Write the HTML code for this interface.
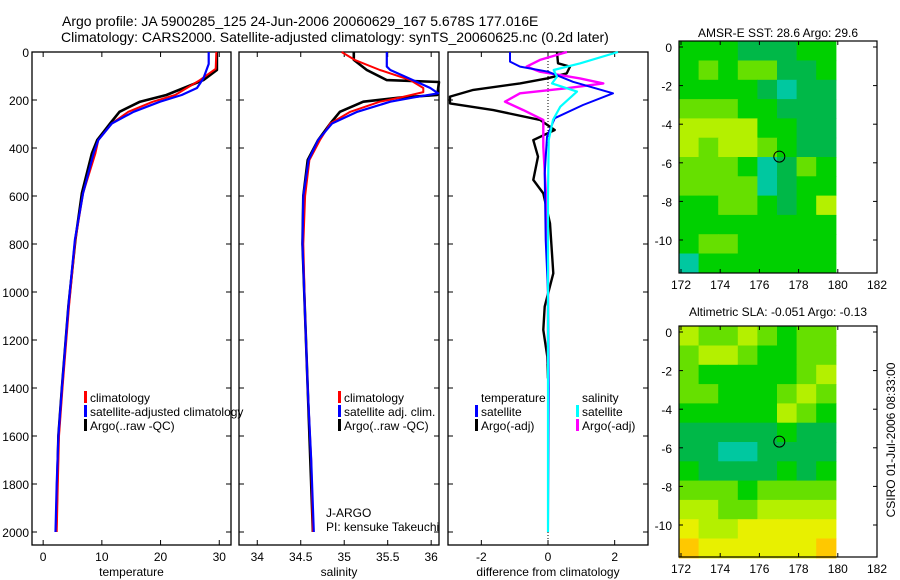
<!DOCTYPE html>
<html><head><meta charset="utf-8">
<style>
html,body{margin:0;padding:0;background:#fff;}
svg{display:block;font-family:"Liberation Sans",sans-serif;}
</style></head>
<body>
<svg id="fig" width="900" height="580" viewBox="0 0 900 580" xmlns="http://www.w3.org/2000/svg">
<text x="62" y="26" font-size="14">Argo profile: JA 5900285_125 24-Jun-2006 20060629_167 5.678S 177.016E</text>
<text x="61" y="42" font-size="14">Climatology: CARS2000. Satellite-adjusted climatology: synTS_20060625.nc (0.2d later)</text>
<text x="778" y="37" font-size="12" text-anchor="middle">AMSR-E SST: 28.6 Argo: 29.6</text>
<text x="778" y="316" font-size="12" text-anchor="middle">Altimetric SLA: -0.051 Argo: -0.13</text>
<text transform="translate(895,440) rotate(-90)" font-size="12" text-anchor="middle">CSIRO 01-Jul-2006 08:33:00</text>
<g id="plots"></g>
</svg>
<script>
// ---------- data ----------
const depthTicks=[0,200,400,600,800,1000,1200,1400,1600,1800,2000];
const tempTicks=[0,10,20,30];
const salTicks=[34,34.5,35,35.5,36];
const diffTicks=[-2,0,2];
const lonTicks=[172,174,176,178,180,182];
const latTicks=[0,-2,-4,-6,-8,-10];

// temperature profiles
const tClimDepth=[0,70,117,179,207,249,298,367,422,588,782,1060,1400,1600,1800,2000];
const tClimVal=[29.5,29.4,26.7,22.5,18.7,14.5,11.7,9.4,8.9,6.8,5.5,4.4,3.3,2.7,2.5,2.3];
const tSatDepth=[0,50,110,150,179,207,249,298,367,422,588,782,1060,1400,1600,1800,2000];
const tSatVal=[28.2,28.2,27.3,26.2,23.6,19.9,15.4,11.7,9.4,8.6,6.8,5.4,4.3,3.2,2.6,2.3,2.1];
const tArgoDepth=[0,75,117,179,207,249,298,367,422,588,782,1060,1400,1600,1800,2000];
const tArgoVal=[29.6,29.6,27.3,21,16.5,13,11.4,9.2,8.3,6.6,5.5,4.3,3.2,2.6,2.4,2.2];

// salinity profiles
const sClimDepth=[0,33,75,117,150,167,190,207,249,298,367,450,600,800,1100,1400,1700,2000];
const sClimVal=[34.97,35.12,35.41,35.76,35.91,35.91,35.64,35.41,35.07,34.84,34.72,34.6,34.55,34.53,34.55,34.58,34.62,34.64];
const sSatDepth=[0,61,75,117,150,172,190,207,249,298,367,450,600,800,1100,1400,1700,2000];
const sSatVal=[35.49,35.49,35.53,35.79,35.99,36.08,35.79,35.53,35.15,34.86,34.7,34.59,34.53,34.52,34.55,34.58,34.62,34.65];
const sArgoDepth=[0,33,75,117,125,179,190,207,249,298,367,450,600,800,1100,1400,1700,2000];
const sArgoVal=[35.11,35.11,35.26,35.49,36.09,36.07,35.64,35.22,34.95,34.84,34.7,34.58,34.53,34.52,34.55,34.58,34.61,34.64];

// differences from climatology
const dTSatDepth=[0,40,61,82,124,172,221,276,353,506,783,1000,1400,2000];
const dTSatVal=[-1.14,-1.14,-0.84,0,0.75,1.95,1.05,0.2,-0.03,-0.1,-0.07,0,0.02,0];
const dTArgoDepth=[0,47,61,89,110,131,158,186,214,242,283,325,367,436,533,589,714,922,1061,1158,1269,1360];
const dTArgoVal=[0.27,0.3,0.66,0.56,-0.03,-0.84,-2.24,-2.94,-2.94,-1.64,-0.24,0.2,-0.44,-0.3,-0.44,-0.14,0.06,0.16,-0.1,-0.14,-0.02,0];
const dSSatDepth=[0,47,75,103,131,165,228,283,367,600,2000];
const dSSatVal=[2.1,0.97,0.17,0.27,0.12,0.87,0.37,0.15,0.02,0,0];
const dSArgoDepth=[0,33,61,82,110,131,151,172,207,242,283,394,644,900,1300];
const dSArgoVal=[0.57,-0.24,-0.64,-0.24,0.96,1.66,0.57,-0.84,-1.29,-0.74,-0.14,-0.14,-0.04,0,0];

// map grids (rows: 0..-11 deg lat, cols: 172..179 deg lon), digit = colour level
const sstGrid=["55544455","56566445","55554344","66655444","77775544","76776544","66653465","66663455","55665457","55555555","56655555","35555555"];
const slaGrid=["76676566","67765566","65555567","66555676","55555765","44444544","44334444","54444545","66656666","77667777","87788888","98888889"];

// ---------- drawing ----------
const NS="http://www.w3.org/2000/svg";
const root=document.getElementById('plots');
function mk(tag,attrs,parent){const e=document.createElementNS(NS,tag);for(const k in attrs)e.setAttribute(k,attrs[k]);(parent||root).appendChild(e);return e;}
const Y0=52,Y1=545;
function yD(d){return 52+d*0.24;}
const panels=[
 {x0:32,x1:231,vmin:-1.9,vmax:32.0,ticks:tempTicks,label:'temperature',name:'temperature'},
 {x0:239,x1:439,vmin:33.79,vmax:36.09,ticks:salTicks,label:'salinity',name:'salinity'},
 {x0:448,x1:648,vmin:-3.0,vmax:3.0,ticks:diffTicks,label:'difference from climatology',name:'difference'}
];
panels.forEach(p=>{p.sx=v=>p.x0+(v-p.vmin)/(p.vmax-p.vmin)*(p.x1-p.x0);});

function drawPanel(p,idx){
  const g=mk('g',{});
  
  
  const r=mk('rect',{x:p.x0,y:Y0,width:p.x1-p.x0,height:Y1-Y0,fill:'none',stroke:'#000','stroke-width':1.3},g);
  
  
  depthTicks.forEach(d=>{
    const y=yD(d);
    mk('line',{x1:p.x0,x2:p.x0+5,y1:y,y2:y,stroke:'#000'},g);
    mk('line',{x1:p.x1-5,x2:p.x1,y1:y,y2:y,stroke:'#000'},g);
    if(idx===0){
      const t=mk('text',{x:p.x0-3,y:y+5,'font-size':12,'text-anchor':'end'},g);
      t.textContent=d;
      
      
    }
  });
  p.ticks.forEach(v=>{
    const x=p.sx(v);
    mk('line',{x1:x,x2:x,y1:Y1,y2:Y1-5,stroke:'#000'},g);
    mk('line',{x1:x,x2:x,y1:Y0,y2:Y0+5,stroke:'#000'},g);
    const t=mk('text',{x:x,y:561,'font-size':12,'text-anchor':'middle'},g);
    t.textContent=v;
    
    
  });
  const l=mk('text',{x:(p.x0+p.x1)/2,y:576,'font-size':12,'text-anchor':'middle'},g);
  l.textContent=p.label;
  
  
  return g;
}
function series(p,g,depths,vals,color,w,name){
  const pts=depths.map((d,i)=>p.sx(vals[i]).toFixed(1)+','+yD(d).toFixed(1)).join(' ');
  const e=mk('polyline',{points:pts,fill:'none',stroke:color,'stroke-width':w,'stroke-linejoin':'round'},g);
  
  
}
const g0=drawPanel(panels[0],0),g1=drawPanel(panels[1],1),g2=drawPanel(panels[2],2);
series(panels[0],g0,tArgoDepth,tArgoVal,'#000',2.6,'temp-argo-line');
series(panels[0],g0,tClimDepth,tClimVal,'#f00',2,'temp-climatology-line');
series(panels[0],g0,tSatDepth,tSatVal,'#00f',2.2,'temp-satellite-line');
series(panels[1],g1,sArgoDepth,sArgoVal,'#000',2.6,'sal-argo-line');
series(panels[1],g1,sClimDepth,sClimVal,'#f00',2,'sal-climatology-line');
series(panels[1],g1,sSatDepth,sSatVal,'#00f',2.2,'sal-satellite-line');
const zl=mk('line',{x1:panels[2].sx(0),x2:panels[2].sx(0),y1:Y0,y2:Y1,stroke:'#000','stroke-dasharray':'1,2'},g2);


series(panels[2],g2,dTArgoDepth,dTArgoVal,'#000',2.4,'diff-temp-argo-line');
series(panels[2],g2,dSArgoDepth,dSArgoVal,'#f0f',2.4,'diff-sal-argo-line');
series(panels[2],g2,dTSatDepth,dTSatVal,'#00f',2,'diff-temp-satellite-line');
series(panels[2],g2,dSSatDepth,dSSatVal,'#0ff',2.2,'diff-sal-satellite-line');

// legends
function legend(g,x,y,color,text,name){
  if(color){const m=mk('rect',{x:x-6,y:y-11,width:3,height:12,fill:color},g);
    
    }
  const t=mk('text',{x:x,y:y,'font-size':12},g);
  t.textContent=text;
  
  
}
legend(g0,90,402,'#f00','climatology','legend-climatology');
legend(g0,90,416,'#00f','satellite-adjusted climatology','legend-satellite-adjusted');
legend(g0,90,430,'#000','Argo(..raw -QC)','legend-argo-raw');
legend(g1,344,402,'#f00','climatology','legend-sal-climatology');
legend(g1,344,416,'#00f','satellite adj. clim.','legend-sal-satellite');
legend(g1,344,430,'#000','Argo(..raw -QC)','legend-sal-argo');
legend(g1,326,517,null,'J-ARGO','j-argo-label');
legend(g1,326,531,null,'PI: kensuke Takeuchi','pi-label');
legend(g2,481,402,null,'temperature','legend-temperature-heading');
legend(g2,582,402,null,'salinity','legend-salinity-heading');
legend(g2,481,416,'#00f','satellite','legend-diff-temp-satellite');
legend(g2,481,430,'#000','Argo(-adj)','legend-diff-temp-argo');
legend(g2,582,416,'#0ff','satellite','legend-diff-sal-satellite');
legend(g2,582,430,'#f0f','Argo(-adj)','legend-diff-sal-argo');

// maps
const palette={3:'#00c8a0',4:'#00b848',5:'#00d000',6:'#66e000',7:'#b4f000',8:'#e8f000',9:'#ffc800'};
function drawMap(top,bottom,grid,name){
  const g=mk('g',{});
  
  
  const x0=679,x1=877;
  const lon=v=>681+(v-172)*19.6;
  const lat0=top+6, ppd=(bottom-top-2)/11.9*1; // approx
  const lat=v=>lat0-v*19.3;
  grid.forEach((row,ri)=>{
    for(let ci=0;ci<row.length;ci++){
      const c=mk('rect',{x:lon(171.9+ci).toFixed(1),y:lat(0.3-ri).toFixed(1),width:20.2,height:19.9,fill:palette[row[ci]]},g);
      
      
    }
  });
  const fr=mk('rect',{x:x0,y:top,width:x1-x0,height:bottom-top,fill:'none',stroke:'#000','stroke-width':1.2},g);
  
  
  const ci=mk('circle',{cx:lon(177.016),cy:lat(-5.678),r:5.5,fill:'none',stroke:'#000','stroke-width':1},g);
  
  
  lonTicks.forEach(v=>{
    const x=lon(v);
    mk('line',{x1:x,x2:x,y1:bottom,y2:bottom-4,stroke:'#000'},g);
    mk('line',{x1:x,x2:x,y1:top,y2:top+4,stroke:'#000'},g);
    const t=mk('text',{x:x,y:bottom+16,'font-size':12,'text-anchor':'middle'},g);
    t.textContent=v;
    
    
  });
  latTicks.forEach(v=>{
    const y=lat(v);
    mk('line',{x1:x0,x2:x0+4,y1:y,y2:y,stroke:'#000'},g);
    mk('line',{x1:x1-4,x2:x1,y1:y,y2:y,stroke:'#000'},g);
    const t=mk('text',{x:x0-7,y:y+5,'font-size':12,'text-anchor':'end'},g);
    t.textContent=v;
    
    
  });
}
drawMap(41,273,sstGrid,'sst-map');
drawMap(326,557,slaGrid,'sla-map');
</script>
</body></html>
